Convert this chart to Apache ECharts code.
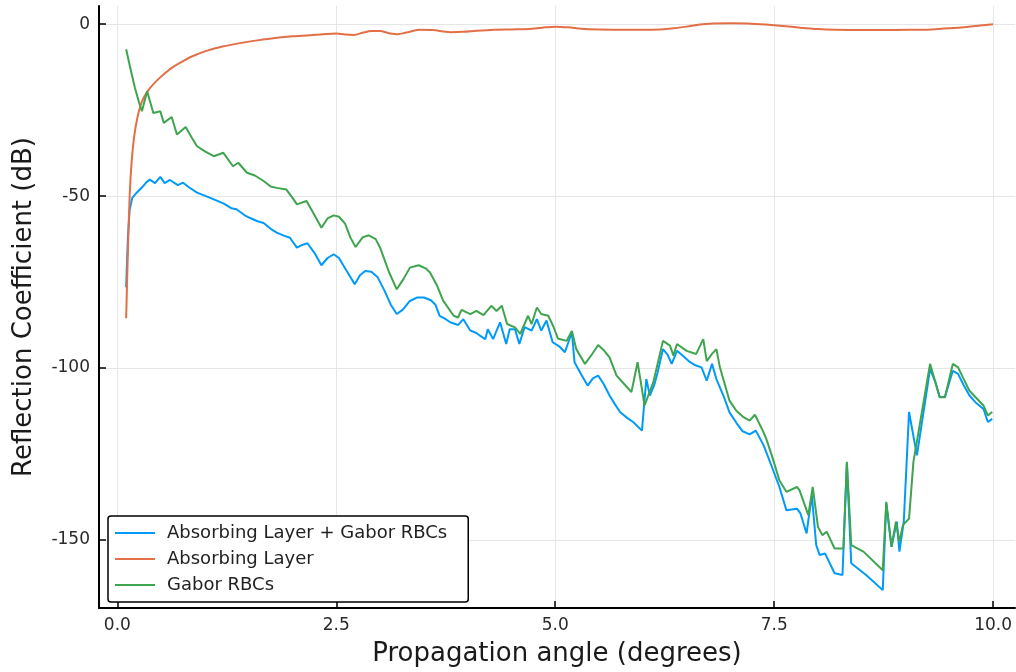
<!DOCTYPE html>
<html><head><meta charset="utf-8">
<script src="https://cdn.jsdelivr.net/npm/echarts@6/dist/echarts.min.js"></script>
<style>html,body{margin:0;padding:0;background:#fff}#c{width:1016px;height:672px}</style>
</head><body><div id="c"></div>
<script>
const seriesNames = ['Absorbing Layer + Gabor RBCs', 'Absorbing Layer', 'Gabor RBCs'];
const seriesColors = ['#009AFA', '#E36F47', '#3EA44E'];

const absorbingGabor = [[0.1,-76.5],[0.12,-62],[0.14,-54],[0.17,-50.5],[0.22,-49],[0.28,-47.5],[0.33,-46],[0.37,-45.2],[0.43,-46.2],[0.49,-44.4],[0.54,-46.2],[0.6,-45.3],[0.69,-46.8],[0.75,-46.1],[0.82,-47.5],[0.91,-49],[1.06,-50.5],[1.21,-52.1],[1.3,-53.5],[1.36,-53.8],[1.45,-55.5],[1.51,-56.3],[1.6,-57.3],[1.67,-57.8],[1.75,-59.5],[1.82,-60.6],[1.9,-61.5],[1.97,-62.1],[2.05,-65],[2.11,-64.2],[2.17,-63.7],[2.25,-66.5],[2.33,-70.1],[2.4,-68],[2.47,-66.9],[2.53,-68],[2.6,-71],[2.66,-73.5],[2.71,-75.6],[2.77,-73],[2.83,-71.8],[2.9,-72],[2.97,-73.5],[3.05,-77.5],[3.12,-81.5],[3.19,-84.3],[3.26,-83],[3.34,-80.5],[3.42,-79.5],[3.5,-79.5],[3.58,-80.3],[3.63,-81.5],[3.68,-84.8],[3.75,-85.8],[3.8,-86.7],[3.89,-87.5],[3.95,-85.8],[4.03,-89.1],[4.1,-89.8],[4.14,-90.6],[4.2,-91.6],[4.23,-88.7],[4.29,-91.6],[4.37,-86.7],[4.44,-93.0],[4.48,-88.7],[4.54,-88.7],[4.59,-93],[4.65,-88.1],[4.73,-89.1],[4.79,-85.8],[4.84,-89.1],[4.9,-86.2],[4.97,-92.5],[5.05,-93.8],[5.11,-95.4],[5.19,-89.6],[5.22,-98.3],[5.3,-102],[5.37,-105.1],[5.43,-103],[5.49,-102.2],[5.55,-104.5],[5.62,-108],[5.68,-110.5],[5.74,-112.8],[5.82,-114.5],[5.89,-115.7],[5.99,-118.2],[6.04,-103.2],[6.08,-108],[6.13,-105],[6.17,-101.2],[6.23,-94.5],[6.28,-96],[6.33,-98.8],[6.39,-95],[6.46,-96.5],[6.54,-98.3],[6.6,-99.2],[6.67,-99.8],[6.73,-103.7],[6.79,-98.8],[6.84,-103.2],[6.92,-108],[6.99,-112.9],[7.07,-116],[7.14,-118.4],[7.22,-119.3],[7.29,-118.2],[7.38,-122.5],[7.47,-128.5],[7.56,-134.6],[7.64,-141.4],[7.76,-140.9],[7.8,-142.3],[7.87,-148.1],[7.93,-137],[7.98,-151.5],[8.02,-154.4],[8.08,-153.9],[8.19,-159.7],[8.28,-160.2],[8.33,-127.8],[8.38,-156.8],[8.55,-160.2],[8.74,-164.6],[8.78,-139.4],[8.84,-152],[8.9,-144.7],[8.93,-153.4],[8.98,-144.7],[9.04,-112.8],[9.13,-125.4],[9.28,-100.3],[9.34,-104],[9.39,-108.4],[9.45,-108.4],[9.54,-100.8],[9.6,-101.7],[9.66,-104.8],[9.73,-108],[9.8,-110],[9.89,-111.9],[9.94,-115.7],[9.99,-114.8]];

const absorbingLayer = [[0.1,-85.5],[0.12,-66],[0.14,-50],[0.16,-41],[0.19,-33],[0.23,-27],[0.28,-22.5],[0.35,-19.3],[0.45,-16.4],[0.55,-14.1],[0.65,-12.2],[0.75,-10.7],[0.85,-9.4],[1.0,-7.9],[1.2,-6.5],[1.4,-5.5],[1.6,-4.7],[1.8,-4.0],[2.0,-3.5],[2.2,-3.2],[2.35,-2.9],[2.5,-2.7],[2.6,-3.0],[2.7,-3.1],[2.8,-2.5],[2.9,-2.0],[3.0,-2.0],[3.1,-2.6],[3.2,-2.9],[3.3,-2.4],[3.45,-1.6],[3.6,-1.7],[3.8,-2.3],[3.95,-2.2],[4.1,-1.9],[4.3,-1.6],[4.5,-1.5],[4.7,-1.4],[4.85,-1.0],[5.0,-0.7],[5.15,-0.9],[5.3,-1.3],[5.5,-1.5],[5.8,-1.6],[6.0,-1.6],[6.2,-1.5],[6.35,-1.2],[6.5,-0.7],[6.65,-0.1],[6.8,0.2],[7.0,0.3],[7.2,0.2],[7.4,-0.1],[7.6,-0.5],[7.8,-1.0],[8.0,-1.4],[8.2,-1.6],[8.5,-1.7],[8.8,-1.7],[9.1,-1.6],[9.3,-1.5],[9.5,-1.2],[9.7,-0.8],[9.85,-0.4],[10.0,0.0]];

const gaborOnly = [[0.1,-7.3],[0.15,-13],[0.2,-18.5],[0.25,-23],[0.28,-25.3],[0.34,-19.5],[0.41,-25.8],[0.49,-25.3],[0.53,-28.7],[0.62,-27.0],[0.68,-32.1],[0.78,-29.9],[0.85,-33],[0.91,-35.5],[1.0,-37],[1.1,-38.4],[1.21,-37.4],[1.32,-41.3],[1.38,-40.3],[1.48,-43.2],[1.57,-44],[1.67,-45.6],[1.75,-47.2],[1.82,-47.6],[1.93,-48.1],[2.0,-50.5],[2.05,-52.4],[2.16,-51.4],[2.25,-55.5],[2.33,-59.2],[2.4,-56.5],[2.47,-55.6],[2.53,-56],[2.6,-58],[2.66,-62],[2.72,-64.8],[2.8,-62],[2.87,-61.4],[2.95,-62.5],[3.0,-65],[3.1,-72],[3.19,-77.1],[3.27,-74],[3.34,-70.8],[3.44,-70.1],[3.52,-71],[3.57,-72.2],[3.65,-76],[3.72,-80.4],[3.84,-84.8],[3.89,-85.3],[3.93,-83.1],[4.03,-84.3],[4.1,-83.4],[4.18,-84.6],[4.27,-81.9],[4.33,-83.4],[4.39,-81.9],[4.45,-87.2],[4.54,-88.2],[4.6,-90.1],[4.69,-84.8],[4.73,-87.2],[4.79,-82.4],[4.84,-84.3],[4.92,-84.8],[4.98,-88],[5.03,-91.4],[5.13,-92.1],[5.19,-89.2],[5.24,-94.5],[5.34,-98.8],[5.42,-96],[5.49,-93.3],[5.56,-95],[5.62,-96.9],[5.7,-102.2],[5.8,-105],[5.87,-107],[5.94,-98.3],[6.02,-110.9],[6.12,-104.1],[6.23,-92.1],[6.31,-93.5],[6.35,-96.4],[6.39,-93.0],[6.5,-95.0],[6.61,-95.9],[6.69,-91.6],[6.73,-98],[6.79,-95.9],[6.84,-94.5],[6.88,-99.8],[6.99,-109.5],[7.07,-112.5],[7.15,-114.3],[7.22,-115.3],[7.28,-113.6],[7.37,-118.2],[7.41,-120.6],[7.48,-126],[7.56,-132.7],[7.64,-136.0],[7.76,-134.6],[7.79,-135.6],[7.89,-142.8],[7.94,-134.6],[8.0,-146.2],[8.05,-148.6],[8.1,-147.6],[8.19,-152.5],[8.29,-152.5],[8.33,-127.3],[8.38,-151.5],[8.52,-153.4],[8.74,-158.8],[8.78,-138.9],[8.84,-152.0],[8.89,-144.7],[8.93,-150.5],[8.97,-145.7],[9.04,-143.8],[9.09,-127.3],[9.28,-98.8],[9.39,-108.5],[9.45,-108.5],[9.54,-98.8],[9.6,-99.8],[9.66,-103],[9.73,-106.6],[9.8,-108.5],[9.89,-110.9],[9.94,-113.8],[9.99,-112.8]];

const xTicks = [0, 2.5, 5, 7.5, 10];
const xTickLabels = ['0.0', '2.5', '5.0', '7.5', '10.0'];
const yTicks = [-150, -100, -50, 0];
const yTickLabels = ['-150', '-100', '-50', '0'];
const xTitle = 'Propagation angle (degrees)';
const yTitle = 'Reflection Coefficient (dB)';

const chart = echarts.init(document.getElementById('c'));
const FONT = 'DejaVu Sans';
const dataSets = [absorbingGabor, absorbingLayer, gaborOnly];

function lbl(ticks, labels) {
  return function (v) {
    for (let i = 0; i < ticks.length; i++) if (Math.abs(ticks[i] - v) < 1e-6) return labels[i];
    return '';
  };
}

chart.setOption({
  animation: false,
  backgroundColor: '#fff',
  grid: { left: 99, top: 6, width: 916, height: 603.5, containLabel: false },
  xAxis: {
    type: 'value', min: -0.21, max: 10.25,
    name: xTitle, nameLocation: 'middle', nameGap: 33,
    nameTextStyle: { fontFamily: FONT, fontSize: 26, color: '#1a1a1a' },
    axisLine: { show: true, onZero: false, lineStyle: { color: '#000', width: 2 } },
    axisTick: { show: true, inside: true, length: 7, customValues: xTicks, lineStyle: { color: '#000', width: 1.5 } },
    axisLabel: { customValues: xTicks, formatter: lbl(xTicks, xTickLabels), fontFamily: FONT, fontSize: 17, color: '#2a2a2a', margin: 9 },
    splitLine: { show: true, lineStyle: { color: '#e6e6e6', width: 1 } }
  },
  yAxis: {
    type: 'value', min: -169.8, max: 5.3,
    name: yTitle, nameLocation: 'middle', nameGap: 62, nameRotate: 90,
    nameTextStyle: { fontFamily: FONT, fontSize: 26, color: '#1a1a1a' },
    axisLine: { show: true, onZero: false, lineStyle: { color: '#000', width: 2 } },
    axisTick: { show: true, inside: true, length: 7, customValues: yTicks, lineStyle: { color: '#000', width: 1.5 } },
    axisLabel: { customValues: yTicks, formatter: lbl(yTicks, yTickLabels), fontFamily: FONT, fontSize: 17, color: '#2a2a2a', margin: 9 },
    splitLine: { show: true, lineStyle: { color: '#e6e6e6', width: 1 } }
  },
  legend: {
    orient: 'vertical', left: 108, top: 516,
    padding: [8, 21, 8, 6],
    borderColor: '#000', borderWidth: 1.5, borderRadius: 3,
    backgroundColor: '#fff',
    itemWidth: 40, itemHeight: 14, itemGap: 8,
    itemStyle: { opacity: 0 },
    textStyle: { fontFamily: FONT, fontSize: 18, color: '#222', padding: [0, 0, 0, 7] },
    data: seriesNames
  },
  series: seriesNames.map((n, i) => ({
    name: n, type: 'line', data: dataSets[i], symbol: 'none', showSymbol: false,
    smooth: i === 1 ? 0.3 : false,
    lineStyle: { color: seriesColors[i], width: 2 }, itemStyle: { color: seriesColors[i] }
  }))
});
</script></body></html>
